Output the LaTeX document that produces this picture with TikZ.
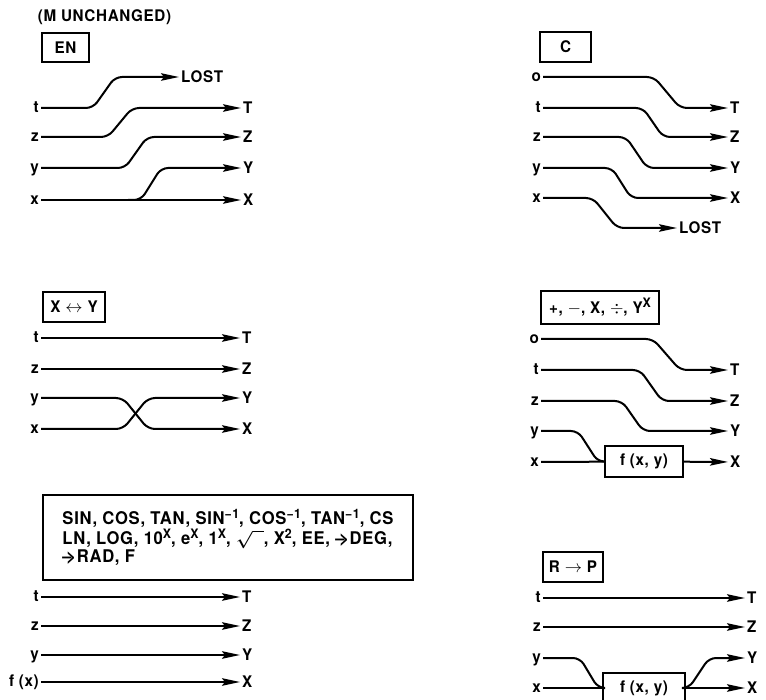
\documentclass[tikz,border=0pt]{standalone}
\usepackage{fontspec}
\setmainfont{TeX Gyre Heros}[LetterSpace=4, FakeStretch=0.95]
\usepackage{tikz}
\usetikzlibrary{arrows.meta}
\newcommand{\regfont}{\bfseries\fontsize{16}{18}\selectfont}
\newcommand{\toarr}{\textendash\kern-0.3em\textgreater}
\newcommand{\upx}[1]{\raisebox{6pt}{\fontsize{13}{13}\selectfont #1}}
\tikzset{
  reg/.style={line width=2pt, rounded corners=7pt},
  regarrow/.style={reg, -{Stealth[length=18pt,width=7.5pt,inset=3pt]}},
  keybox/.style={draw, line width=1.8pt, inner sep=2pt, font=\regfont},
  fnbox/.style={keybox, minimum width=80pt, minimum height=31pt},
  inreg/.style={anchor=east, inner sep=2pt, text height=8.5pt, text depth=0pt, font=\regfont},
  outreg/.style={anchor=west, inner sep=2pt, text height=11.5pt, text depth=0pt, font=\regfont},
  note/.style={font=\regfont}
}

\begin{document}
\begin{tikzpicture}[x=1pt, y=-1pt]
  \useasboundingbox (0,0) rectangle (766,700);

  % ENTER
  \node[note] (mnote) at (104.5,17.5) {(M UNCHANGED)};
  \node[keybox, minimum width=47pt, minimum height=29pt] (enkey) at (65.5,47.5) {EN};
  \node[inreg] (ent) at (41,108) {t};
  \node[inreg] (enz) at (41,137) {z};
  \node[inreg] (eny) at (41,168) {y};
  \node[inreg] (enx) at (41,200) {x};
  \node[outreg] (enL) at (179,77) {LOST};
  \node[outreg] (enT) at (241,108) {T};
  \node[outreg] (enZ) at (241,137) {Z};
  \node[outreg] (enY) at (241,168) {Y};
  \node[outreg] (enX) at (241,200) {X};
  \coordinate (enfork) at (128,200);
  \draw[regarrow] (ent) -- (93,108) -- (115,77) -- (enL);
  \draw[regarrow] (enz) -- (108,137) -- (132,108) -- (enT);
  \draw[regarrow] (eny) -- (125,168) -- (147,137) -- (enZ);
  \draw[regarrow] (enx) -- (enX);
  \draw[regarrow] (enfork) -- (141,200) -- (161,168) -- (enY);

  % CLEAR X
  \node[keybox, minimum width=51pt, minimum height=30pt] (ckey) at (565.5,47) {C};
  \node[inreg] (co) at (543,77) {o};
  \node[inreg] (ct) at (543,108) {t};
  \node[inreg] (cz) at (543,137) {z};
  \node[inreg] (cy) at (543,168) {y};
  \node[inreg] (cx) at (543,198) {x};
  \node[outreg] (cT) at (728,108) {T};
  \node[outreg] (cZ) at (728,137) {Z};
  \node[outreg] (cY) at (728,168) {Y};
  \node[outreg] (cX) at (728,198) {X};
  \node[outreg] (cL) at (677,228) {LOST};
  \draw[regarrow] (co) -- (654,77) -- (680,108) -- (cT);
  \draw[regarrow] (ct) -- (643,108) -- (663,137) -- (cZ);
  \draw[regarrow] (cz) -- (626,137) -- (647,168) -- (cY);
  \draw[regarrow] (cy) -- (612,168) -- (631,198) -- (cX);
  \draw[regarrow] (cx) -- (593,198) -- (617,228) -- (cL);

  % X<>Y
  \node[keybox, minimum width=62pt, minimum height=30pt] (xykey) at (74,307) {X $\leftrightarrow$ Y};
  \node[inreg] (xyt) at (41,338) {t};
  \node[inreg] (xyz) at (41,369) {z};
  \node[inreg] (xyy) at (41,398) {y};
  \node[inreg] (xyx) at (41,429) {x};
  \node[outreg] (xyT) at (240,338) {T};
  \node[outreg] (xyZ) at (240,369) {Z};
  \node[outreg] (xyY) at (240,398) {Y};
  \node[outreg] (xyX) at (240,429) {X};
  \draw[regarrow] (xyt) -- (xyT);
  \draw[regarrow] (xyz) -- (xyZ);
  \draw[regarrow] (xyy) -- (123,398) -- (148,429) -- (xyX);
  \draw[regarrow] (xyx) -- (123,429) -- (148,398) -- (xyY);

  % two-operand functions
  \node[keybox, minimum width=118pt, minimum height=33pt] (arkey) at (600,307.5) {+, $-$, X, $\div$, Y\upx{X}};
  \node[inreg] (aro) at (541,339) {o};
  \node[inreg] (art) at (541,370) {t};
  \node[inreg] (arz) at (541,401) {z};
  \node[inreg] (ary) at (541,431) {y};
  \node[inreg] (arx) at (541,462) {x};
  \node[outreg] (arT) at (728,370) {T};
  \node[outreg] (arZ) at (728,401) {Z};
  \node[outreg] (arY) at (728,431) {Y};
  \node[outreg] (arX) at (728,462) {X};
  \node[fnbox, minimum width=78pt] (arf) at (644,461.5) {f (x, y)};
  \draw[regarrow] (aro) -- (653,339) -- (680,370) -- (arT);
  \draw[regarrow] (art) -- (640,370) -- (662,401) -- (arZ);
  \draw[regarrow] (arz) -- (622,401) -- (643,431) -- (arY);
  \draw[reg] (ary) -- (578,431) -- (598,462) -- (arf.west);
  \draw[reg] (arx) -- (arf);
  \draw[regarrow] (arf) -- (arX);

  % one-operand functions
  \node[keybox, minimum width=370pt, minimum height=85pt, align=left,
        font=\bfseries\fontsize{17.5}{16}\selectfont] (snkey) at (228,537.5)
    {SIN, COS, TAN, SIN\upx{−1}, COS\upx{−1}, TAN\upx{−1}, CS\\
     LN, LOG, 10\upx{X}, e\upx{X}, 1\upx{X}, {\boldmath$\sqrt{\phantom{x}}$}, X\upx{2}, EE, \toarr DEG,\\
     \toarr RAD, F};
  \node[inreg] (snt) at (41,597) {t};
  \node[inreg] (snz) at (41,626) {z};
  \node[inreg] (sny) at (41,655) {y};
  \node[inreg] (snf) at (41,682) {f (x)};
  \node[outreg] (snT) at (240,597) {T};
  \node[outreg] (snZ) at (240,626) {Z};
  \node[outreg] (snY) at (240,655) {Y};
  \node[outreg] (snX) at (240,682) {X};
  \draw[regarrow] (snt) -- (snT);
  \draw[regarrow] (snz) -- (snZ);
  \draw[regarrow] (sny) -- (snY);
  \draw[regarrow] (snf) -- (snX);

  % R->P
  \node[keybox, minimum width=60pt, minimum height=30pt] (rpkey) at (573,567) {R $\rightarrow$ P};
  \node[inreg] (rpt) at (543,598) {t};
  \node[inreg] (rpz) at (543,627) {z};
  \node[inreg] (rpy) at (543,658) {y};
  \node[inreg] (rpx) at (543,688) {x};
  \node[outreg] (rpT) at (745,598) {T};
  \node[outreg] (rpZ) at (745,627) {Z};
  \node[outreg] (rpY) at (745,658) {Y};
  \node[outreg] (rpX) at (745,688) {X};
  \node[fnbox, minimum width=82pt, minimum height=30pt] (rpf) at (644,688) {f (x, y)};
  \draw[regarrow] (rpt) -- (rpT);
  \draw[regarrow] (rpz) -- (rpZ);
  \draw[reg] (rpy) -- (580,658) -- (598,688) -- (rpf.west);
  \draw[reg] (rpx) -- (rpf);
  \draw[regarrow] (rpf) -- (rpX);
  \draw[regarrow] (rpf.east) -- (689,688) -- (709,658) -- (rpY);
\end{tikzpicture}
\end{document}
